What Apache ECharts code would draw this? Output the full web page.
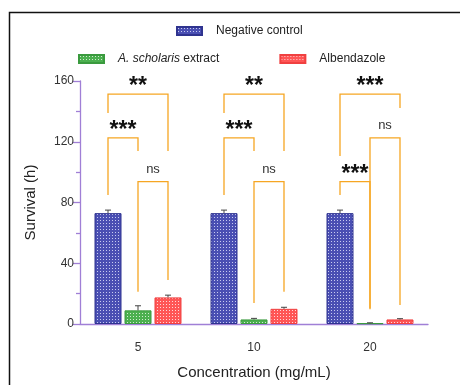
<!DOCTYPE html>
<html><head><meta charset="utf-8">
<script src="https://cdn.jsdelivr.net/npm/echarts@6/dist/echarts.min.js"></script>
<style>html,body{margin:0;padding:0;background:#fff}#c{width:460px;height:385px}</style>
</head><body><div id="c"></div>
<script>
// ---- data ----
var categories = ['5', '10', '20'];
var seriesNames = ['Negative control', 'A. scholaris extract', 'Albendazole'];
var negControl = [73, 73, 73];
var negControlErr = [2, 2, 2];
var extract = [9, 3, 0.5];
var extractErr = [3, 0.7, 0.3];
var albendazole = [17.5, 10, 3];
var albendazoleErr = [1.5, 1, 0.5];
var yTicks = [0, 40, 80, 120, 160];
// brackets: category, from-series, to-series, level, left-leg end, right-leg end
var brCat   = [0, 0, 0, 1, 1, 1, 2, 2, 2];
var brFrom  = [0, 0, 1, 0, 0, 1, 0, 1, 0];
var brTo    = [2, 1, 2, 2, 1, 2, 2, 2, 1];
var brLevel = [151.4, 122.6, 93.7, 151.4, 122.6, 93.7, 151.4, 122.6, 93.7];
var brLeft  = [139, 85, 21.3, 139, 85, 13.8, 110.6, 10.3, 85];
var brRight = [113.9, 113.9, 29, 113.9, 113.9, 21.3, 142.2, 12.5, 9.7];
var brLabel = ['**', '***', 'ns', '**', '***', 'ns', '***', 'ns', '***'];

function pattern(base, dot) {
  var c = document.createElement('canvas');
  c.width = 3; c.height = 3;
  var g = c.getContext('2d');
  g.fillStyle = base; g.fillRect(0, 0, 3, 3);
  g.fillStyle = dot; g.fillRect(1, 1, 1, 1);
  return { image: c, repeat: 'repeat' };
}
var fills = [pattern('#4a4fb3', '#c8cbf0'), pattern('#4cb050', '#d0ecd0'), pattern('#ff5656', '#ffd8d8')];
var borders = ['#2f338f', '#3a9a3e', '#f04040'];
var values = [negControl, extract, albendazole];
var errs = [negControlErr, extractErr, albendazoleErr];

var BW = 27, STEP = 30;
var chart = echarts.init(document.getElementById('c'));
var series = [];
for (var s = 0; s < 3; s++) {
  series.push({
    name: seriesNames[s], type: 'bar', barWidth: BW, barGap: '11.1%',
    data: values[s],
    itemStyle: { color: fills[s], borderColor: borders[s], borderWidth: 1 }
  });
}
for (var s2 = 0; s2 < 3; s2++) {
  (function (si) {
    series.push({
      type: 'custom', silent: true, z: 5,
      data: values[si].map(function (v, i) { return [i, v, errs[si][i]]; }),
      renderItem: function (params, api) {
        var b = api.coord([api.value(0), api.value(1)]);
        var t = api.coord([api.value(0), api.value(1) + api.value(2)]);
        var x = b[0] + (si - 1) * STEP;
        return { type: 'group', children: [
          { type: 'line', shape: { x1: x, y1: b[1], x2: x, y2: t[1] }, style: { stroke: '#444', lineWidth: 1 } },
          { type: 'line', shape: { x1: x - 3, y1: t[1], x2: x + 3, y2: t[1] }, style: { stroke: '#444', lineWidth: 1 } }
        ] };
      }
    });
  })(s2);
}
series.push({
  type: 'custom', silent: true, z: 6,
  data: brCat.map(function (c, i) { return [c, brLevel[i], brLeft[i], brRight[i], brFrom[i], brTo[i]]; }),
  renderItem: function (params, api) {
    var c = api.value(0);
    var lv = api.coord([c, api.value(1)]);
    var le = api.coord([c, api.value(2)])[1];
    var re = api.coord([c, api.value(3)])[1];
    var xl = lv[0] + (api.value(4) - 1) * STEP;
    var xr = lv[0] + (api.value(5) - 1) * STEP;
    var lab = brLabel[params.dataIndex];
    var star = lab !== 'ns';
    return { type: 'group', children: [
      { type: 'polyline', shape: { points: [[xl, le], [xl, lv[1]], [xr, lv[1]], [xr, re]] },
        style: { stroke: '#f6a623', lineWidth: 1.3, fill: null } },
      { type: 'text', x: (xl + xr) / 2, y: lv[1] - (star ? 7 : 12),
        style: { text: lab, textAlign: 'center', textVerticalAlign: 'middle',
          font: star ? 'bold 23px "Liberation Sans", Arial, sans-serif' : '13px "Liberation Sans", Arial, sans-serif',
          fill: star ? '#111' : '#333' } }
    ] };
  }
});

chart.setOption({
  animation: false,
  backgroundColor: '#fff',
  graphic: [{ type: 'polyline', shape: { points: [[9.5, 385], [9.5, 12.5], [460, 12.5]] },
    style: { stroke: '#111', lineWidth: 1.5, fill: null } }],
  legend: [
    { data: [seriesNames[0]], left: 171, top: 20, itemWidth: 25, itemHeight: 8, icon: 'rect',
      textStyle: { fontFamily: '"Liberation Sans", Arial', fontSize: 12, color: '#222', padding: [0, 0, 0, 9] } },
    { data: [seriesNames[1], seriesNames[2]], left: 73, top: 48, itemWidth: 25, itemHeight: 8, icon: 'rect', itemGap: 60,
      formatter: function (n) { return n === seriesNames[1] ? '{i|A. scholaris} extract' : n; },
      textStyle: { fontFamily: '"Liberation Sans", Arial', fontSize: 12, color: '#222', padding: [0, 0, 0, 9],
        rich: { i: { fontStyle: 'italic', fontFamily: '"Liberation Sans", Arial', fontSize: 12, color: '#222' } } } }
  ],
  grid: { left: 80, right: 32, top: 81, bottom: 61 },
  xAxis: {
    type: 'category', data: categories,
    name: 'Concentration (mg/mL)', nameLocation: 'middle', nameGap: 41,
    nameTextStyle: { fontFamily: '"Liberation Sans", Arial', fontSize: 15, color: '#222' },
    axisLine: { lineStyle: { color: '#a07fd6', width: 1.3 } },
    axisTick: { alignWithLabel: true, length: 8, lineStyle: { color: '#a07fd6', width: 1.3 } },
    axisLabel: { fontFamily: '"Liberation Sans", Arial', fontSize: 12, color: '#333', margin: 18 }
  },
  yAxis: {
    type: 'value', min: yTicks[0], max: yTicks[yTicks.length - 1], interval: 40,
    name: 'Survival (h)', nameLocation: 'middle', nameGap: 42,
    nameTextStyle: { fontFamily: '"Liberation Sans", Arial', fontSize: 15, color: '#222' },
    axisLine: { show: true, lineStyle: { color: '#a07fd6', width: 1.3 } },
    axisTick: { show: true, length: 7, lineStyle: { color: '#a07fd6', width: 1.3 } },
    minorTick: { show: true, splitNumber: 2, length: 4, lineStyle: { color: '#a07fd6', width: 1.3 } },
    splitLine: { show: false },
    axisLabel: { fontFamily: '"Liberation Sans", Arial', fontSize: 12, color: '#333', margin: 6 }
  },
  series: series
});
</script></body></html>
